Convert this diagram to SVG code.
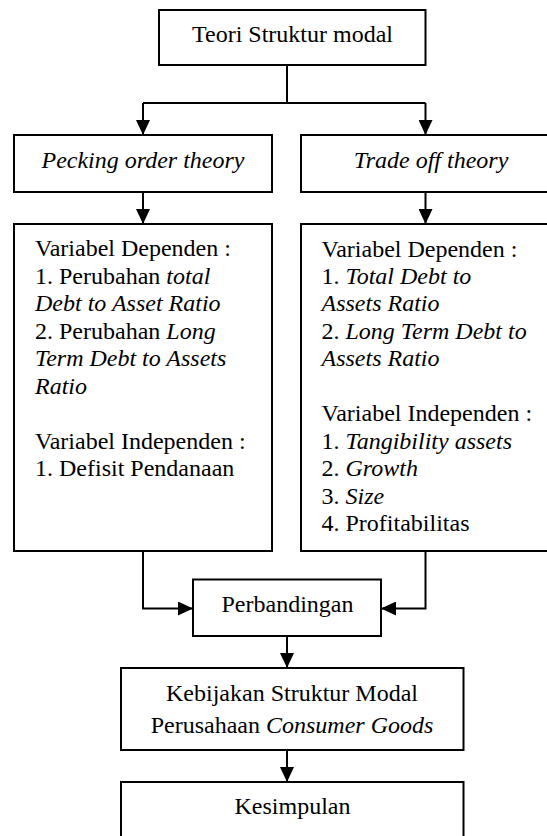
<svg xmlns="http://www.w3.org/2000/svg" width="547" height="836" viewBox="0 0 547 836">
<defs>
<style>
.box{fill:#fff;stroke:#000;stroke-width:2}
.t{font-family:'Times New Roman','Liberation Serif',serif;font-size:24px;fill:#000}
.c{text-anchor:middle}
.i{font-style:italic}
.ln{fill:none;stroke:#000;stroke-width:2}
</style>
<marker id="ah" markerUnits="userSpaceOnUse" markerWidth="16" markerHeight="14" refX="15" refY="7" orient="auto">
<path d="M0,0 L15,7 L0,14 z" fill="#000"/>
</marker>
</defs>
<rect width="547" height="836" fill="#fff"/>
<g id="connectors">
<path class="ln" d="M287,65 V103"/>
<path class="ln" d="M143,103 H425.5"/>
<path class="ln" d="M143,103 V135" marker-end="url(#ah)"/>
<path class="ln" d="M425.5,103 V135" marker-end="url(#ah)"/>
<path class="ln" d="M143,192 V224" marker-end="url(#ah)"/>
<path class="ln" d="M425.5,192 V224" marker-end="url(#ah)"/>
<path class="ln" d="M143,551 V608.5 H193" marker-end="url(#ah)"/>
<path class="ln" d="M425.5,551 V608.5 H381" marker-end="url(#ah)"/>
<path class="ln" d="M287,636 V668" marker-end="url(#ah)"/>
<path class="ln" d="M287,750 V782" marker-end="url(#ah)"/>
</g>
<g id="teori">
<rect class="box" x="159" y="10" width="266.5" height="55"/>
<text class="t c" x="292.5" y="42">Teori Struktur modal</text>
</g>
<g id="pecking">
<rect class="box" x="14" y="135" width="258" height="57"/>
<text class="t c i" x="143" y="168">Pecking order theory</text>
</g>
<g id="tradeoff">
<rect class="box" x="301" y="135" width="260" height="57"/>
<text class="t c i" x="431" y="168">Trade off theory</text>
</g>
<g id="pecking-vars">
<rect class="box" x="14" y="224" width="258" height="327"/>
<text class="t" x="35" y="256">Variabel Dependen :</text>
<text class="t" x="35" y="283.5">1. Perubahan <tspan class="i">total</tspan></text>
<text class="t i" x="35" y="311">Debt to Asset Ratio</text>
<text class="t" x="35" y="338.5">2. Perubahan <tspan class="i">Long</tspan></text>
<text class="t i" x="35" y="366">Term Debt to Assets</text>
<text class="t i" x="35" y="393.5">Ratio</text>
<text class="t" x="35" y="448.5">Variabel Independen :</text>
<text class="t" x="35" y="476">1. Defisit Pendanaan</text>
</g>
<g id="tradeoff-vars">
<rect class="box" x="301" y="224" width="260" height="327"/>
<text class="t" x="321.5" y="256.5">Variabel Dependen :</text>
<text class="t" x="321.5" y="283.5">1. <tspan class="i">Total Debt to</tspan></text>
<text class="t i" x="321.5" y="311">Assets Ratio</text>
<text class="t" x="321.5" y="338.5">2. <tspan class="i">Long Term Debt to</tspan></text>
<text class="t i" x="321.5" y="366">Assets Ratio</text>
<text class="t" x="321.5" y="421">Variabel Independen :</text>
<text class="t" x="321.5" y="448.5">1. <tspan class="i">Tangibility assets</tspan></text>
<text class="t" x="321.5" y="476">2. <tspan class="i">Growth</tspan></text>
<text class="t" x="321.5" y="503.5">3. <tspan class="i">Size</tspan></text>
<text class="t" x="321.5" y="531">4. Profitabilitas</text>
</g>
<g id="perbandingan">
<rect class="box" x="193" y="579.5" width="188" height="56.5"/>
<text class="t c" x="287.5" y="612">Perbandingan</text>
</g>
<g id="kebijakan">
<rect class="box" x="121" y="668" width="342.5" height="82"/>
<text class="t c" x="292" y="700.5">Kebijakan Struktur Modal</text>
<text class="t c" x="292" y="732.5">Perusahaan <tspan class="i">Consumer Goods</tspan></text>
</g>
<g id="kesimpulan">
<rect class="box" x="121" y="782" width="342.5" height="70"/>
<text class="t c" x="292.5" y="814">Kesimpulan</text>
</g>
</svg>
